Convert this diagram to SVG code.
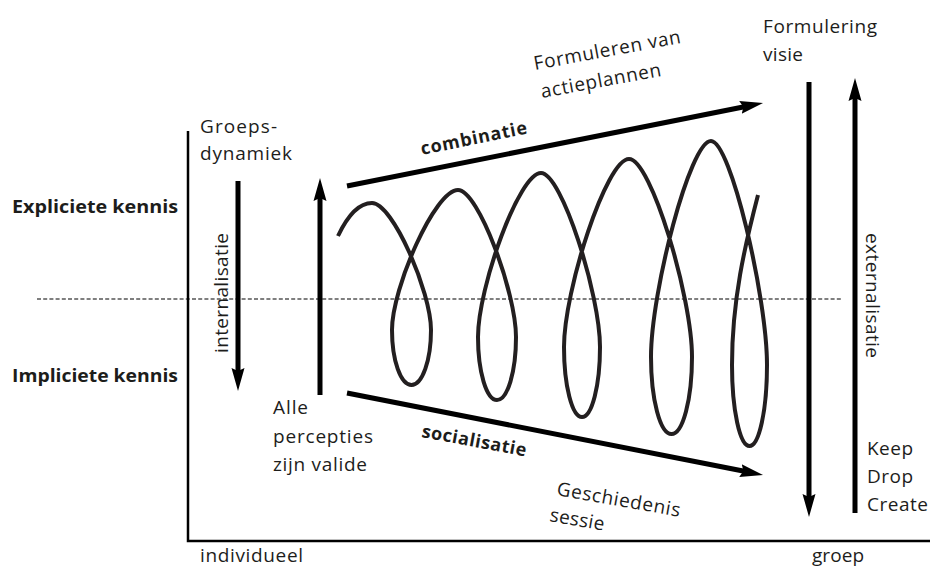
<svg xmlns="http://www.w3.org/2000/svg" width="930" height="569" viewBox="0 0 930 569">
  <defs>
    <marker id="head" markerUnits="userSpaceOnUse" markerWidth="24" markerHeight="14" refX="4" refY="7" orient="auto">
      <path d="M0,0.5 L23,7 L0,13.5 L3,7 Z" fill="#000"/>
    </marker>
    <style>
      .lbl { font-family: "Open Sans", "Liberation Sans", sans-serif; font-size: 19px; fill: #1d1d1b; }
      .bold { font-family: "Open Sans", "Liberation Sans", sans-serif; font-size: 18px; font-weight: bold; fill: #1d1d1b; }
      .arrow { stroke: #000; stroke-width: 5; fill: none; marker-end: url(#head); }
      .axis { stroke: #000; stroke-width: 2.5; fill: none; }
      .divider { stroke: #000; stroke-width: 1.2; stroke-dasharray: 4 2.2; fill: none; }
      .spiral { stroke: #231f20; stroke-width: 4; fill: none; stroke-linejoin: round; }
    </style>
  </defs>

  <rect width="930" height="569" fill="#fff"/>

  <!-- axes and the explicit/implicit divider -->
  <g id="axes">
    <path class="axis" d="M188,131 V541 H930"/>
    <path class="divider" d="M37,299 H843"/>
  </g>

  <!-- row labels -->
  <g id="explicit">
    <text class="bold" x="12" y="213" textLength="166" lengthAdjust="spacingAndGlyphs">Expliciete kennis</text>
  </g>
  <g id="implicit">
    <text class="bold" x="12" y="382" textLength="166" lengthAdjust="spacingAndGlyphs">Impliciete kennis</text>
  </g>

  <!-- axis labels -->
  <g id="individual">
    <text class="lbl" x="200" y="562" font-size="18" textLength="103">individueel</text>
  </g>
  <g id="group">
    <text class="lbl" x="812" y="562" font-size="18" textLength="52">groep</text>
  </g>

  <!-- connectors -->
  <g id="connectors">
    <line class="arrow" x1="238" y1="181" x2="238" y2="372"/>
    <line class="arrow" x1="320" y1="395" x2="320" y2="197"/>
    <line class="arrow" x1="347" y1="186" x2="744.4" y2="106.7"/>
    <line class="arrow" x1="347" y1="393" x2="744.4" y2="471.3"/>
    <line class="arrow" x1="809" y1="82" x2="809" y2="498"/>
    <line class="arrow" x1="855" y1="513" x2="855" y2="97"/>
  </g>

  <!-- knowledge spiral -->
  <g id="spiral">
    <path class="spiral" d="M338,236 C346,219 357,203 372,203
      C392.7,203 431,292 431,330
      C431,360.4 422.3,385 411.5,385
      C400.7,385 392,360.4 392,330
      C392,288 434.9,190 458,190
      C478.3,190 516,292.9 516,337
      C516,371.8 507.5,400 497,400
      C486.5,400 478,371.8 478,337
      C478,287.8 519,173 541,173
      C561.7,173 600,294.8 600,347
      C600,385.6 591.9,417 582,417
      C572.1,417 564,385.6 564,347
      C564,290.6 606.3,159 629,159
      C651,159 692,297.6 692,357
      C692,399.5 682.8,434 671.5,434
      C660.2,434 651,399.5 651,357
      C651,292.2 690,141 711,141
      C730.6,141 767,297.8 767,365
      C767,409.7 759.2,446 749.5,446
      C739.8,446 732,409.7 732,365
      C732,300 745,245 758,195"/>
  </g>

  <!-- process labels -->
  <g id="groepsdynamiek">
    <text class="lbl" x="200" y="133" textLength="77">Groeps-</text>
    <text class="lbl" x="200" y="160" textLength="92">dynamiek</text>
  </g>
  <g id="internalisatie">
    <text class="lbl" transform="translate(228,353) rotate(-90)" textLength="120">internalisatie</text>
  </g>
  <g id="percepties">
    <text class="lbl" x="273" y="414" textLength="35">Alle</text>
    <text class="lbl" x="273" y="443" textLength="100">percepties</text>
    <text class="lbl" x="273" y="471" textLength="94">zijn valide</text>
  </g>
  <g id="combinatie">
    <text class="bold" transform="translate(422,155) rotate(-11.5)" textLength="108">combinatie</text>
  </g>
  <g id="actieplannen">
    <text class="lbl" transform="translate(535,70) rotate(-10.5)" textLength="149">Formuleren van</text>
    <text class="lbl" transform="translate(542,98) rotate(-10.5)" textLength="122">actieplannen</text>
  </g>
  <g id="socialisatie">
    <text class="bold" transform="translate(421,437) rotate(10.5)" textLength="106">socialisatie</text>
  </g>
  <g id="geschiedenis">
    <text class="lbl" transform="translate(556,495) rotate(10)" textLength="125">Geschiedenis</text>
    <text class="lbl" transform="translate(549,521) rotate(10)" textLength="55">sessie</text>
  </g>
  <g id="visie">
    <text class="lbl" x="763" y="33" textLength="114">Formulering</text>
    <text class="lbl" x="763" y="61" textLength="40">visie</text>
  </g>
  <g id="externalisatie">
    <text class="lbl" transform="translate(866,233) rotate(90)" textLength="125">externalisatie</text>
  </g>
  <g id="keepdropcreate">
    <text class="lbl" x="867" y="455" textLength="46">Keep</text>
    <text class="lbl" x="867" y="483" textLength="46">Drop</text>
    <text class="lbl" x="867" y="511" textLength="61">Create</text>
  </g>
</svg>
